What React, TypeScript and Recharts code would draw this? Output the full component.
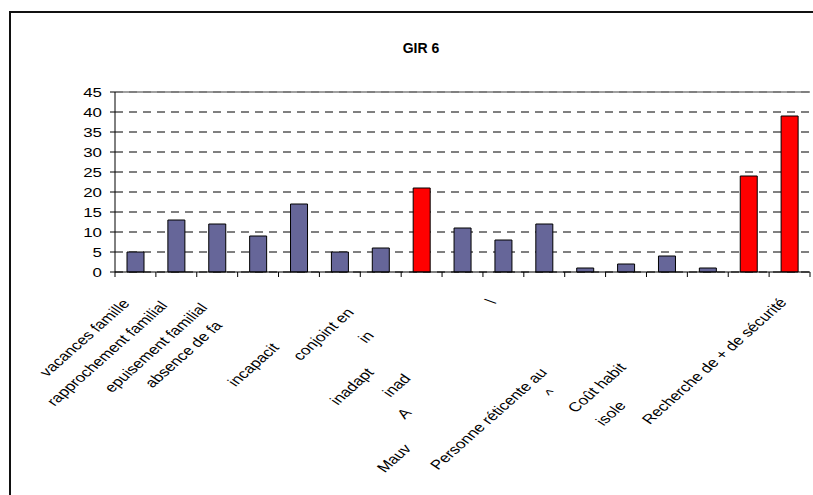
import React from "react";
import { BarChart, Bar, XAxis, YAxis, CartesianGrid, ReferenceLine, Cell } from "recharts";

const categories = [
  "vacances famille",
  "rapprochement familial",
  "epuisement familial",
  "absence de fa",
  "incapacit",
  "conjoint en",
  "in",
  "inadapt",
  "inad",
  "\\",
  "A",
  "Mauv",
  "Personne réticente au",
  "^",
  "Coût habit",
  "isole",
  "Recherche de + de sécurité",
];
const values = [5, 13, 12, 9, 17, 5, 6, 21, 11, 8, 12, 1, 2, 4, 1, 24, 39];
const highlighted = [7, 15, 16];
const yTicks = [0, 5, 10, 15, 20, 25, 30, 35, 40, 45];
const title = "GIR 6";

const data = categories.map((name, i) => ({ name, value: values[i] }));

const W = 813;
const H = 495;
const PLOT_LEFT = 115;
const PLOT_RIGHT = 810;
const BAND = (PLOT_RIGHT - PLOT_LEFT) / categories.length;
const FONT = "'Liberation Sans', Arial, sans-serif";

// label fragment anchor offsets (style only), relative to tick
const LABEL_SHIFT: [number, number][] = [
  [-5, 32], [-8, 34], [-9, 36], [-35, 54], [-19, 76], [15, 41], [-6, 64],
  [-47, 101], [-51, 107], [-7, 31], [-132, 141], [-173, 177], [-78, 101],
  [-109, 122], [-81, 96], [-122, 134], [-2, 31],
];

const XTick = (props: any) => {
  const { x, y, payload, index } = props;
  const i = typeof index === "number" ? index : payload.index;
  const [dx, dy] = LABEL_SHIFT[i] || [0, 30];
  const lx = x - BAND / 2;
  return (
    <g>
      <line x1={lx} y1={y} x2={lx} y2={y + 5} stroke="#000" strokeWidth={1} />
      {i === categories.length - 1 && (
        <line x1={x + BAND / 2} y1={y} x2={x + BAND / 2} y2={y + 5} stroke="#000" strokeWidth={1} />
      )}
      <text
        x={0}
        y={0}
        transform={`translate(${x + dx},${y + dy}) scale(1.3,1) rotate(-49)`}
        textAnchor="end"
        fontSize={13.2}
        fontFamily={FONT}
        fill="#000"
      >
        {payload.value}
      </text>
    </g>
  );
};

const YTick = (props: any) => {
  const { x, y, payload } = props;
  return (
    <text
      x={0}
      y={0}
      transform={`translate(${x},${y}) scale(1.3,1)`}
      textAnchor="end"
      dominantBaseline="central"
      fontSize={13}
      fontFamily={FONT}
      fill="#000"
    >
      {payload.value}
    </text>
  );
};

export default function App() {
  return (
    <div
      style={{
        position: "absolute",
        left: 0,
        top: 0,
        width: W,
        height: H,
        overflow: "hidden",
        background: "#fff",
      }}
    >
      <div
        style={{
          position: "absolute",
          left: 9,
          top: 11,
          width: W,
          height: H,
          borderLeft: "2px solid #111",
          borderTop: "2px solid #111",
        }}
      />
      <div
        style={{
          position: "absolute",
          left: 371,
          top: 40,
          width: 100,
          textAlign: "center",
          fontFamily: FONT,
          fontWeight: "bold",
          fontSize: 14,
          lineHeight: "16px",
          color: "#000",
        }}
      >
        {title}
      </div>
      <div style={{ position: "absolute", left: 0, top: 0 }}>
        <BarChart
          width={W}
          height={H}
          data={data}
          margin={{ top: 92, right: W - PLOT_RIGHT, left: PLOT_LEFT - 40, bottom: H - 272 - 30 }}
          barSize={17}
        >
          <CartesianGrid
            yAxisId="left"
            vertical={false}
            stroke="#000"
            strokeDasharray="8 6"
          />
          <XAxis
            dataKey="name"
            interval={0}
            tickLine={false}
            tickSize={0}
            tickMargin={0}
            height={30}
            axisLine={{ stroke: "#000", strokeWidth: 1 }}
            tick={<XTick />}
          />
          <YAxis
            yAxisId="left"
            domain={[0, 45]}
            ticks={yTicks}
            interval={0}
            width={40}
            tickSize={5}
            tickMargin={8}
            axisLine={{ stroke: "#000", strokeWidth: 1 }}
            tickLine={{ stroke: "#000", strokeWidth: 1 }}
            tick={<YTick />}
          />
          <YAxis
            yAxisId="right"
            orientation="right"
            domain={[0, 45]}
            width={0}
            tick={false}
            tickLine={false}
            axisLine={{ stroke: "#808080", strokeWidth: 1.5 }}
          />
          <ReferenceLine yAxisId="left" y={45} stroke="#808080" strokeWidth={1.5} />
          <Bar
            yAxisId="left"
            dataKey="value"
            stroke="#000"
            strokeWidth={1}
            isAnimationActive={false}
          >
            {data.map((d, i) => (
              <Cell key={d.name + i} fill={highlighted.includes(i) ? "#FF0000" : "#666699"} />
            ))}
          </Bar>
        </BarChart>
      </div>
    </div>
  );
}
